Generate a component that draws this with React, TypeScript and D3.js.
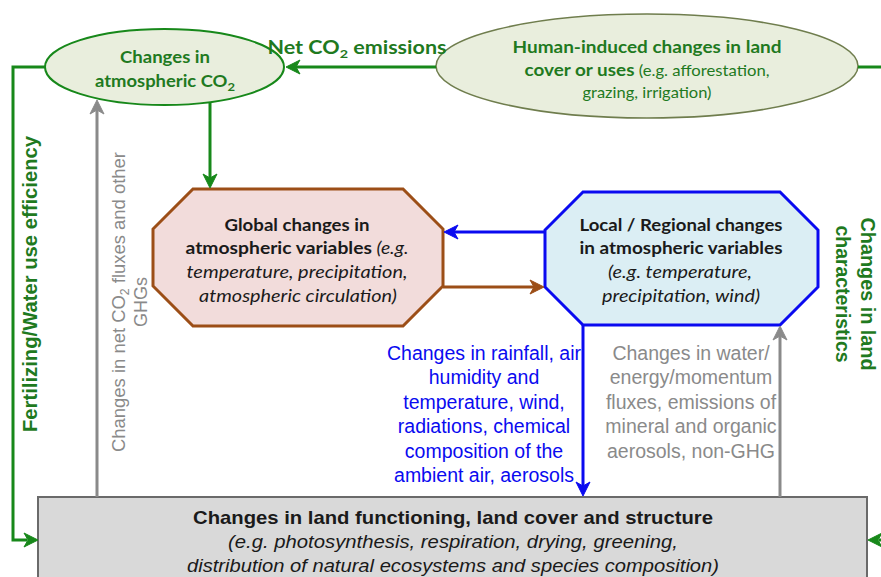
import React from "react";
import * as d3 from "d3";

// ---------- text content ----------
const co2Lines = ["Changes in", "atmospheric CO"];
const humanLines = ["Human-induced changes in land", "cover or uses", " (e.g. afforestation,", "grazing, irrigation)"];
const globalLines = ["Global changes in", "atmospheric variables", " (e.g.", "temperature, precipitation,", "atmospheric circulation)"];
const localLines = ["Local / Regional changes", "in atmospheric variables", "(e.g. temperature,", "precipitation, wind)"];
const blueLines = ["Changes in rainfall, air", "humidity and", "temperature, wind,", "radiations, chemical", "composition of the", "ambient air, aerosols"];
const grayLines = ["Changes in water/", "energy/momentum", "fluxes, emissions of", "mineral and organic", "aerosols, non-GHG"];
const boxLines = ["Changes in land functioning, land cover and structure", "(e.g. photosynthesis, respiration, drying, greening,", "distribution of natural ecosystems and species composition)"];
const leftLabel = "Fertilizing/Water use efficiency";
const grayVertLines = ["Changes in net CO", " fluxes and other", "GHGs"];
const rightLabel = ["Changes in land", "characteristics"];

// ---------- colours ----------
const GREEN = "#17881a";
const GREEN_TXT = "#1f7a1f";
const BLUE = "#0a0af0";
const BROWN = "#9c4e17";
const GRAY = "#8a8a8a";
const DARK = "#1a1a1a";

const SANS = "Liberation Sans, Arial, sans-serif";
const CAL = "Lato, 'Open Sans', sans-serif";

function arrowHead(tx: number, ty: number, dir: "left" | "right" | "up" | "down", color: string, len = 14, half = 7, notch = 4) {
  const p = d3.path();
  const pts: [number, number][] = [
    [0, 0],
    [-len, -half],
    [-len + notch, 0],
    [-len, half],
  ];
  const rot = { right: 0, down: Math.PI / 2, left: Math.PI, up: -Math.PI / 2 }[dir];
  const tr = pts.map(([x, y]) => [tx + x * Math.cos(rot) - y * Math.sin(rot), ty + x * Math.sin(rot) + y * Math.cos(rot)]);
  p.moveTo(tr[0][0], tr[0][1]);
  tr.slice(1).forEach(([x, y]) => p.lineTo(x, y));
  p.closePath();
  return <path d={p.toString()} fill={color} stroke={color} strokeWidth={1} strokeLinejoin="round" />;
}

function poly(points: [number, number][]) {
  const line = d3.line().curve(d3.curveLinear);
  return line(points) as string;
}

function octagon(x0: number, y0: number, x1: number, y1: number, c: number) {
  return poly([
    [x0 + c, y0], [x1 - c, y0], [x1, y0 + c], [x1, y1 - c],
    [x1 - c, y1], [x0 + c, y1], [x0, y1 - c], [x0, y0 + c], [x0 + c, y0],
  ]) + "Z";
}

export default function App() {
  const W = 881, H = 577;
  const LA = "spacingAndGlyphs";
  return (
    <svg width={W} height={H} style={{ position: "absolute", left: 0, top: 0, background: "#fff" }}>
      {/* bottom box */}
      <rect x={38} y={497} width={829} height={100} fill="#d9d9d9" stroke="#6a6a6a" strokeWidth={2} />
      <g fontFamily={SANS} fill={DARK} textAnchor="middle">
        <text x={453} y={524} fontSize={19} fontWeight="bold" textLength={520} lengthAdjust={LA}>{boxLines[0]}</text>
        <text x={453} y={548} fontSize={19} fontStyle="italic" textLength={450} lengthAdjust={LA}>{boxLines[1]}</text>
        <text x={453} y={572} fontSize={19} fontStyle="italic" textLength={532} lengthAdjust={LA}>{boxLines[2]}</text>
      </g>

      {/* ellipses */}
      <ellipse cx={647} cy={66} rx={211} ry={52} fill="#e9eedd" stroke="#6f7d4d" strokeWidth={1.5} />
      <ellipse cx={164.5} cy={67} rx={119.5} ry={38} fill="#e9eedd" stroke={GREEN} strokeWidth={2} />

      <g fontFamily={CAL} fill={GREEN_TXT} textAnchor="middle" fontWeight="bold">
        <text x={165} y={63} fontSize={17} textLength={90} lengthAdjust={LA}>{co2Lines[0]}</text>
        <text x={165} y={87} fontSize={17} textLength={140} lengthAdjust={LA}>{co2Lines[1]}<tspan fontSize={12} dy={4}>2</tspan></text>
        <text x={647} y={53} fontSize={17} textLength={269} lengthAdjust={LA}>{humanLines[0]}</text>
        <text x={647} y={76} fontSize={17} textLength={245} lengthAdjust={LA}>{humanLines[1]}<tspan fontWeight="normal" fontSize={15}>{humanLines[2]}</tspan></text>
        <text x={647} y={98} fontSize={15} fontWeight="normal" textLength={129} lengthAdjust={LA}>{humanLines[3]}</text>
      </g>

      {/* net CO2 label */}
      <text x={357} y={54} fontFamily={CAL} fontWeight="bold" fontSize={18} fill={GREEN_TXT} textAnchor="middle" textLength={179} lengthAdjust={LA}>
        Net CO<tspan fontSize={12} dy={4}>2</tspan><tspan dy={-4}> emissions</tspan>
      </text>

      {/* octagons */}
      <path d={octagon(153, 189, 443, 326, 40)} fill="#f2dcdb" stroke={BROWN} strokeWidth={3} />
      <path d={octagon(545, 192, 818, 325, 38)} fill="#dbeef4" stroke={BLUE} strokeWidth={3} />

      <g fontFamily={CAL} fill={DARK} textAnchor="middle" fontSize={17}>
        <text x={297} y={231} fontWeight="bold" textLength={145} lengthAdjust={LA}>{globalLines[0]}</text>
        <text x={297} y={254} textLength={223} lengthAdjust={LA}><tspan fontWeight="bold">{globalLines[1]}</tspan><tspan fontStyle="italic">{globalLines[2]}</tspan></text>
        <text x={297} y={278} fontStyle="italic" textLength={221} lengthAdjust={LA}>{globalLines[3]}</text>
        <text x={298} y={302} fontStyle="italic" textLength={198} lengthAdjust={LA}>{globalLines[4]}</text>
        <text x={681} y={231} fontWeight="bold" textLength={203} lengthAdjust={LA}>{localLines[0]}</text>
        <text x={681} y={254} fontWeight="bold" textLength={203} lengthAdjust={LA}>{localLines[1]}</text>
        <text x={680} y={278} fontStyle="italic" textLength={144} lengthAdjust={LA}>{localLines[2]}</text>
        <text x={681} y={302} fontStyle="italic" textLength={158} lengthAdjust={LA}>{localLines[3]}</text>
      </g>

      {/* blue & gray middle texts */}
      <g fontFamily={SANS} fontSize={19.5} textAnchor="middle">
        {blueLines.map((t, i) => (
          <text key={"b" + i} x={484} y={360 + i * 24.4} fill={BLUE}>{t}</text>
        ))}
        {grayLines.map((t, i) => (
          <text key={"g" + i} x={691} y={360 + i * 24.4} fill={GRAY}>{t}</text>
        ))}
      </g>

      {/* rotated labels */}
      <text transform="translate(37,284) rotate(-90)" fontFamily={SANS} fontWeight="bold" fontSize={20} fill={GREEN_TXT} textAnchor="middle" textLength={296} lengthAdjust={LA}>{leftLabel}</text>
      <g fontFamily={SANS} fontSize={18} fill={GRAY} textAnchor="middle">
        <text transform="translate(125,302) rotate(-90)" textLength={300} lengthAdjust={LA}>{grayVertLines[0]}<tspan fontSize={12} dy={4}>2</tspan><tspan dy={-4}>{grayVertLines[1]}</tspan></text>
        <text transform="translate(147,302) rotate(-90)">{grayVertLines[2]}</text>
      </g>
      <g fontFamily={SANS} fontWeight="bold" fontSize={20} fill={GREEN_TXT} textAnchor="middle">
        <text transform="translate(861,294) rotate(90)" textLength={153} lengthAdjust={LA}>{rightLabel[0]}</text>
        <text transform="translate(836,294) rotate(90)" textLength={137} lengthAdjust={LA}>{rightLabel[1]}</text>
      </g>

      {/* connectors */}
      <g fill="none" strokeLinejoin="miter">
        <path d={poly([[436, 67], [296, 67]])} stroke={GREEN} strokeWidth={3} />
        <path d={poly([[858, 67], [881, 67]])} stroke={GREEN} strokeWidth={3} />
        <path d={poly([[45, 67], [13, 67], [13, 540], [27, 540]])} stroke={GREEN} strokeWidth={3} />
        <path d={poly([[881, 540], [879, 540]])} stroke={GREEN} strokeWidth={3} />
        <path d={poly([[210, 103], [210, 178]])} stroke={GREEN} strokeWidth={3} />
        <path d={poly([[97, 497], [97, 110]])} stroke={GRAY} strokeWidth={3} />
        <path d={poly([[545, 232], [454, 232]])} stroke={BLUE} strokeWidth={3} />
        <path d={poly([[443, 287], [534, 287]])} stroke={BROWN} strokeWidth={3} />
        <path d={poly([[583, 325], [583, 486]])} stroke={BLUE} strokeWidth={3} />
        <path d={poly([[780, 497], [780, 336]])} stroke={GRAY} strokeWidth={3} />
      </g>
      {arrowHead(286, 67, "left", GREEN)}
      {arrowHead(38, 540, "right", GREEN)}
      {arrowHead(868, 540, "left", GREEN)}
      {arrowHead(210, 188, "down", GREEN)}
      {arrowHead(97, 100, "up", GRAY)}
      {arrowHead(444, 232, "left", BLUE)}
      {arrowHead(544, 287, "right", BROWN)}
      {arrowHead(583, 496, "down", BLUE)}
      {arrowHead(780, 326, "up", GRAY)}
    </svg>
  );
}
